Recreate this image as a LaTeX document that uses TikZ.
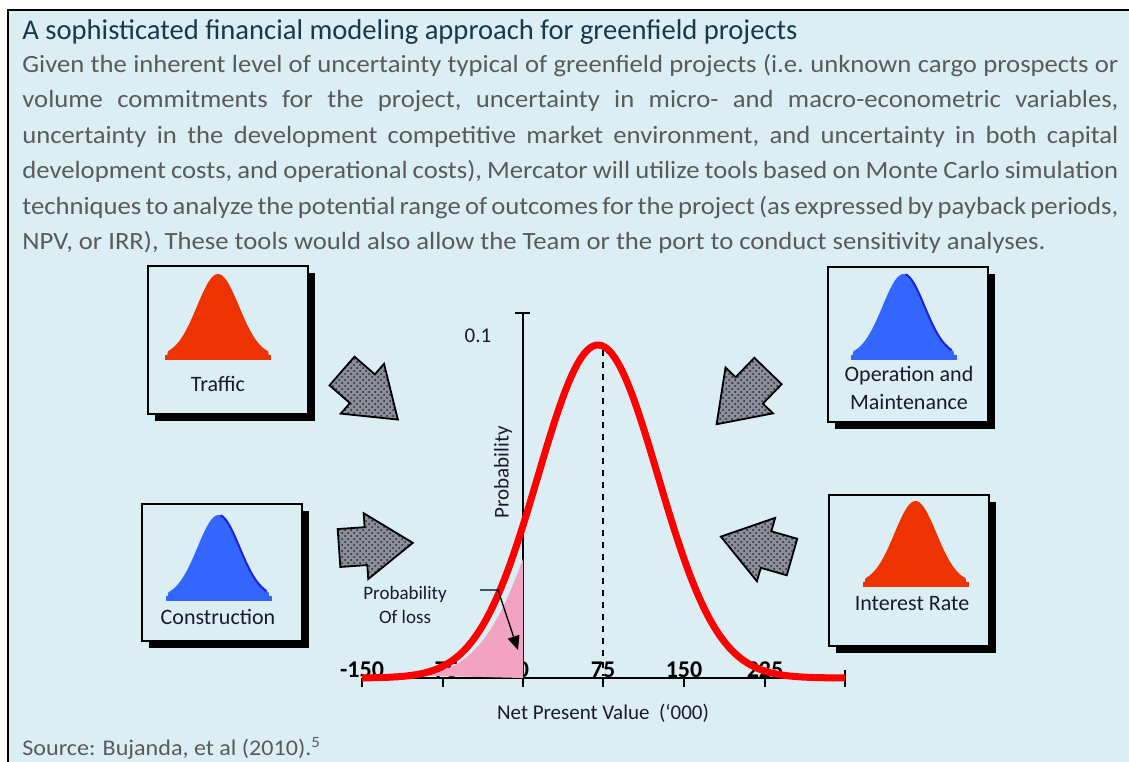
\documentclass[tikz,border=0pt]{standalone}
\usepackage{fontspec}
\setmainfont{Carlito}
\newfontfamily\parafont{Carlito}[FakeStretch=1.075]
\usetikzlibrary{arrows.meta,patterns,shadows,positioning}

\definecolor{panel}{HTML}{DBEEF4}
\definecolor{headblue}{HTML}{17394C}
\definecolor{bodygray}{HTML}{5A5A5A}
\definecolor{bellred}{HTML}{EE3300}
\definecolor{bellblue}{HTML}{3366FF}
\definecolor{belledge}{HTML}{1C22D8}
\definecolor{npvred}{HTML}{FF0000}
\definecolor{losspink}{HTML}{F2A3C1}
\definecolor{arrowgray}{HTML}{8A8D9A}
\definecolor{labelink}{HTML}{1A1A2A}

\tikzset{
  headtext/.style={font=\fontsize{14.3}{17}\selectfont, text=headblue, inner sep=0pt},
  bodytext/.style={font=\parafont\frenchspacing\fontsize{12.4}{15}\selectfont, text=bodygray, inner sep=0pt},
  sourcetext/.style={font=\parafont\fontsize{11.2}{13}\selectfont, text=bodygray, inner sep=0pt},
  distbox/.style={draw=black, line width=0.8pt, fill=panel, minimum width=80pt, inner sep=0pt,
    general shadow={fill=black, shadow xshift=3.5pt, shadow yshift=-3.5pt}},
  boxlabel/.style={font=\fontsize{11}{13}\selectfont, text=labelink, inner sep=0pt, align=center},
  axislabel/.style={font=\fontsize{10.5}{12}\selectfont, text=labelink, inner sep=0pt},
  ticklabel/.style={font=\bfseries\fontsize{12}{14}\selectfont, text=black, inner sep=0pt, anchor=base},
  redbell/.style={fill=bellred},
  bluebell/.style={fill=bellblue},
  bluerim/.style={draw=belledge, line width=1pt},
  arrowbody/.style={draw=black, line width=0.9pt, pattern=crosshatch dots, pattern color=black!85,
    preaction={fill=arrowgray}},
  pics/bell/.style={code={
    \fill[#1] (-53,0) rectangle (53,-5);
    \fill[#1] (-51,-4) -- plot[domain=-50:50, samples=60] (\x, {-4-82*exp(-0.5*(\x/21)^2)}) -- (51,-4) -- cycle;
  }},
  pics/bellrim/.style={code={
    \draw[bluerim] plot[domain=2:48, samples=40] (\x, {-4-82*exp(-0.5*(\x/21)^2)});
  }},
  pics/blockarrow/.style={code={
    \draw[arrowbody] (0,-19) -- (27,-19) -- (27,-33) -- (74,0) -- (27,33) -- (27,19) -- (0,19) -- cycle;
  }}
}

\begin{document}
\begin{tikzpicture}[x=0.5pt, y=-0.5pt]
  \useasboundingbox (0,0) rectangle (1129,761);
  \clip (0,0) rectangle (1129,761);
  \draw[line width=1pt, fill=panel] (8,10) rectangle (1140,775);

  % heading and paragraph, one node per printed line
  \node[headtext, anchor=base west] (title) at (22,39)
    {A sophisticated financial modeling approach for greenfield projects};
  \node[bodytext, anchor=base west] (line1) at (22,72)
    {\makebox[548pt][s]{Given the inherent level of uncertainty typical of greenfield projects (i.e. unknown cargo prospects or}};
  \node[bodytext, anchor=base west] (line2) at (22,107.5)
    {\makebox[548pt][s]{volume commitments for the project, uncertainty in micro- and macro-econometric variables,}};
  \node[bodytext, anchor=base west] (line3) at (22,143)
    {\makebox[548pt][s]{uncertainty in the development competitive market environment, and uncertainty in both capital}};
  \node[bodytext, anchor=base west] (line4) at (22,178.5)
    {\makebox[548pt][s]{development costs, and operational costs), Mercator will utilize tools based on Monte Carlo simulation}};
  \node[bodytext, anchor=base west] (line5) at (22,214)
    {\makebox[548pt][s]{techniques to analyze the potential range of outcomes for the project (as expressed by payback periods,}};
  \node[bodytext, anchor=base west] (line6) at (22,249.5)
    {NPV, or IRR), These tools would also allow the Team or the port to conduct sensitivity analyses.};

  % input distributions
  \node[distbox, minimum height=74pt]   (traffic)   at (228,340) {};
  \node[distbox, minimum height=77.5pt] (opmaint)   at (908,344.5) {};
  \node[distbox, minimum height=68.5pt] (construct) at (222,572.5) {};
  \node[distbox, minimum height=75.5pt] (interest)  at (909,570.5) {};

  \pic at (218,360) {bell=redbell};
  \pic at (903.5,360) {bell=bluebell};
  \pic at (903.5,360) {bellrim};
  \pic at (218.5,601) {bell=bluebell};
  \pic at (218.5,601) {bellrim};
  \pic at (915.5,587) {bell=redbell};

  \node[boxlabel] (trafficlbl)   at (218,384) {Traffic};
  \node[boxlabel] (opmaintlbl)   at (909,388) {Operation and\\[1pt]Maintenance};
  \node[boxlabel] (constructlbl) at (218,617) {Construction};
  \node[boxlabel] (interestlbl)  at (912,604) {Interest Rate};

  % block arrows into the chart
  \pic[rotate=-41]  at (342,371) {blockarrow};
  \pic[rotate=4]    at (339,548) {blockarrow};
  \pic[rotate=-134] at (768,371) {blockarrow};
  \pic[rotate=164]  at (792,557) {blockarrow};

  % axes
  \draw[line width=1pt] (515,313) -- (530,313);
  \draw[line width=1pt] (523,313) -- (523,678);
  \draw[line width=1pt] (362,678) -- (845,678);
  \foreach \tx/\tl in {362/-150, 443/-75, 523/0, 603/75, 684/150, 765/225} {
    \draw[line width=0.8pt] (\tx,678) -- (\tx,687);
    \node[ticklabel] at (\tx,677) {\tl};
  }
  \draw[line width=0.8pt] (845,670) -- (845,687);
  \node[axislabel] (ymax)  at (478,336) {0.1};
  \node[axislabel, rotate=90] (ytitle) at (503,472) {Probability};
  \node[axislabel] (xtitle) at (603,713) {Net Present Value~~(‘000)};

  \draw[dashed, line width=0.6pt] (603,350) -- (603,676);

  % loss area and NPV density
  \fill[losspink] plot[domain=420:523, samples=60] (\x, {678-310*exp(-0.5*((\x-606)/60)^2)}) -- (523,678) -- cycle;
  \draw[npvred, line width=3.5pt, line join=round]
    plot[domain=362:845, samples=160] (\x, {678-333*exp(-0.5*((\x-598)/60)^2)});

  \node[axislabel, font=\fontsize{9.5}{12}\selectfont, align=center] (loss) at (405,605) {Probability\\Of loss};
  \coordinate (lossbend) at (498,590);
  \draw[line width=0.7pt, -{Triangle[length=7pt, width=6pt]}] (480,590) -- (lossbend) -- (518,650);

  \node[sourcetext, anchor=base west] (source) at (22,755) {Source: Bujanda, et al (2010).\textsuperscript{5}};
\end{tikzpicture}
\end{document}
